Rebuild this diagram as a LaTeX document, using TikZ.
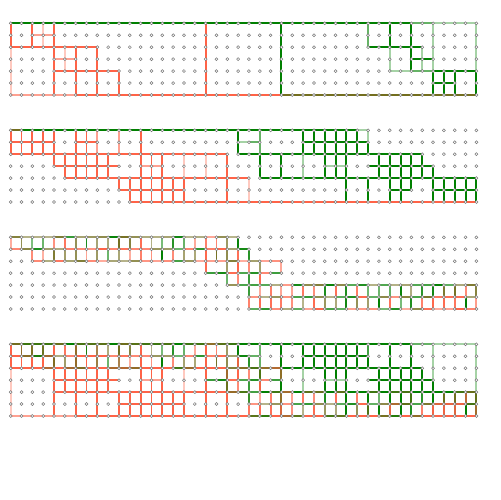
\documentclass[tikz,border=0pt]{standalone}
\definecolor{cR}{RGB}{255,99,71}
\definecolor{cG}{RGB}{0,128,0}
\definecolor{cO}{RGB}{115,110,30}
\definecolor{cDot}{RGB}{120,120,120}
\tikzset{
 seg/.style={line width=1.1pt},
 r1/.style={seg,draw=cR}, r2/.style={seg,draw=cR,draw opacity=.6}, r3/.style={seg,draw=cR,draw opacity=.35},
 g1/.style={seg,draw=cG}, g2/.style={seg,draw=cG,draw opacity=.6}, g3/.style={seg,draw=cG,draw opacity=.35},
 o1/.style={seg,draw=cO},
 dot/.style={circle,draw=cDot,fill=white,line width=0.3pt,inner sep=0pt,minimum size=1.7pt}
}
\newcommand\Hs[5]{\draw[#5] (P#1-#3-#2) -- (P#1-#4-#2);}
\newcommand\Vs[5]{\draw[#5] (P#1-#2-#3) -- (P#1-#2-#4);}
\newcommand\pickcol[2]{%
 \pgfmathsetmacro\rr{rnd}%
 \pgfmathsetmacro\rs{#1+#2}%
 \ifdim\rr pt<#1pt\def\segc{cR}\else\ifdim\rr pt<\rs pt\def\segc{cG}\else\def\segc{cO}\fi\fi
 \pgfmathsetmacro\op{0.5+0.5*rnd}}
\newcommand\PanelA[1]{%
 \Hs{#1}{0}{0}{37}{g1}\Hs{#1}{0}{37}{39}{g2}\Hs{#1}{0}{39}{43}{g3}
 \Hs{#1}{1}{2}{4}{r2}
 \Hs{#1}{2}{0}{8}{r1}
 \Hs{#1}{2}{33}{38}{g1}
 \Hs{#1}{3}{4}{6}{r2}
 \Hs{#1}{3}{37}{39}{g1}
 \Hs{#1}{4}{4}{10}{r1}
 \Hs{#1}{4}{35}{37}{g3}\Hs{#1}{4}{37}{39}{g2}\Hs{#1}{4}{39}{43}{g1}
 \Hs{#1}{5}{39}{41}{g1}
 \Hs{#1}{6}{0}{6}{r2}\Hs{#1}{6}{6}{25}{r1}\Hs{#1}{6}{25}{43}{o1}
 \Vs{#1}{0}{0}{2}{r1}\Vs{#1}{0}{2}{6}{r3}
 \Vs{#1}{2}{0}{2}{r1}
 \Vs{#1}{3}{0}{2}{r3}
 \Vs{#1}{4}{0}{6}{r1}
 \Vs{#1}{5}{2}{4}{r3}
 \Vs{#1}{6}{2}{6}{r1}
 \Vs{#1}{8}{2}{6}{r1}
 \Vs{#1}{10}{4}{6}{r1}
 \Vs{#1}{18}{0}{6}{r1}
 \Vs{#1}{25}{0}{6}{g1}
 \Vs{#1}{33}{0}{2}{g2}
 \Vs{#1}{35}{0}{2}{g1}\Vs{#1}{35}{2}{4}{g3}
 \Vs{#1}{37}{0}{4}{g1}
 \Vs{#1}{38}{2}{4}{g3}
 \Vs{#1}{39}{0}{4}{g3}\Vs{#1}{39}{4}{6}{g1}
 \Vs{#1}{40}{4}{6}{g1}
 \Vs{#1}{41}{4}{6}{g1}
 \Vs{#1}{43}{0}{4}{g3}\Vs{#1}{43}{4}{6}{g1}
}
\newcommand\PanelB[1]{%
 \Hs{#1}{0}{0}{1}{o1}\Hs{#1}{0}{1}{32}{g1}\Hs{#1}{0}{32}{33}{g3}
 \Hs{#1}{1}{0}{4}{r1}\Hs{#1}{1}{6}{8}{r1}
 \Hs{#1}{1}{21}{22}{g3}\Hs{#1}{1}{22}{23}{g2}
 \Hs{#1}{1}{27}{33}{g1}
 \Hs{#1}{2}{0}{20}{r1}
 \Hs{#1}{2}{21}{38}{g1}
 \Hs{#1}{3}{4}{10}{r1}
 \Hs{#1}{3}{12}{14}{r2}
 \Hs{#1}{3}{29}{31}{g3}
 \Hs{#1}{3}{33}{39}{g1}
 \Hs{#1}{4}{5}{22}{r1}
 \Hs{#1}{4}{23}{43}{g1}
 \Hs{#1}{5}{10}{16}{r1}
 \Hs{#1}{5}{35}{37}{g1}\Hs{#1}{5}{39}{43}{g1}
 \Hs{#1}{6}{11}{43}{r1}
 \foreach \c in {0,...,4}{\Vs{#1}{\c}{0}{2}{r1}}
 \Vs{#1}{6}{0}{2}{r1}\Vs{#1}{7}{0}{2}{r1}\Vs{#1}{8}{0}{2}{r2}\Vs{#1}{10}{0}{2}{r2}
 \Vs{#1}{4}{2}{3}{r1}
 \foreach \c in {5,...,9}{\Vs{#1}{\c}{2}{4}{r1}}
 \Vs{#1}{10}{4}{5}{r1}\Vs{#1}{11}{4}{6}{r1}
 \Vs{#1}{12}{0}{6}{r1}\Vs{#1}{13}{2}{6}{r1}\Vs{#1}{14}{2}{6}{r1}
 \Vs{#1}{15}{4}{6}{r1}\Vs{#1}{16}{2}{4}{r3}\Vs{#1}{16}{4}{6}{r1}\Vs{#1}{18}{2}{4}{r3}
 \Vs{#1}{20}{2}{6}{r1}\Vs{#1}{22}{4}{6}{r3}
 \Vs{#1}{21}{0}{2}{g1}\Vs{#1}{23}{0}{2}{g2}\Vs{#1}{23}{2}{4}{g1}\Vs{#1}{25}{2}{4}{g1}
 \Vs{#1}{27}{0}{2}{g1}\Vs{#1}{27}{2}{4}{g3}\Vs{#1}{28}{0}{2}{g1}
 \foreach \c in {29,30,31}{\Vs{#1}{\c}{0}{4}{g1}}
 \Vs{#1}{32}{0}{2}{g1}\Vs{#1}{33}{0}{1}{g3}\Vs{#1}{33}{1}{2}{g1}
 \foreach \c in {34,...,38}{\Vs{#1}{\c}{2}{4}{g1}}
 \Vs{#1}{39}{3}{4}{g1}
 \Vs{#1}{31}{4}{6}{g1}\Vs{#1}{33}{4}{6}{g1}\Vs{#1}{35}{4}{6}{g1}
 \Vs{#1}{36}{4}{6}{g1}\Vs{#1}{37}{4}{5}{g1}
 \foreach \c in {39,...,43}{\Vs{#1}{\c}{4}{6}{g1}}
}
\newcommand\PanelC[1]{%
 \pgfmathsetseed{12345}%
 \foreach \a/\b/\j/\pr/\pg in {0/20/0/.1/.35, 0/21/1/.55/.1, 2/24/2/.55/.1, 18/24/3/.4/.3, 20/42/4/.15/.6, 22/42/5/.45/.35, 22/42/6/.6/.2}{%
  \foreach \i in {\a,...,\b}{%
   \pickcol{\pr}{\pg}%
   \pgfmathtruncatemacro\ii{\i+1}%
   \draw[seg,draw=\segc,draw opacity=\op] (P#1-\i-\j) -- (P#1-\ii-\j);}}
 \foreach \j/\cl/\pr/\pg in {0/{0,...,21}/.35/.3, 1/{2,...,22}/.5/.15, 2/{18,20,21,22,23,25}/.4/.3, 3/{20,21,22,23}/.4/.3, 4/{22,...,43}/.4/.4, 5/{22,...,43}/.45/.35}{%
  \foreach \i in \cl {%
   \pickcol{\pr}{\pg}%
   \pgfmathtruncatemacro\jj{\j+1}%
   \draw[seg,draw=\segc,draw opacity=\op] (P#1-\i-\j) -- (P#1-\i-\jj);}}
}
\begin{document}
\begin{tikzpicture}[x=0.02cm,y=-0.02cm]
\useasboundingbox (0,0) rectangle (500,500);
\foreach \p in {0,...,3}{\foreach \i in {0,...,43}{\foreach \j in {0,...,6}{
 \coordinate (P\p-\i-\j) at ({10.7+10.83*\i},{23.3+107*\p+11.95*\j});}}}
\PanelA{0}
\PanelB{1}
\PanelC{2}
\PanelA{3}
\PanelB{3}
\PanelC{3}
\foreach \p in {0,...,3}{\foreach \i in {0,...,43}{\foreach \j in {0,...,6}{
 \node[dot] (D\p-\i-\j) at (P\p-\i-\j) {};}}}
\end{tikzpicture}
\end{document}
